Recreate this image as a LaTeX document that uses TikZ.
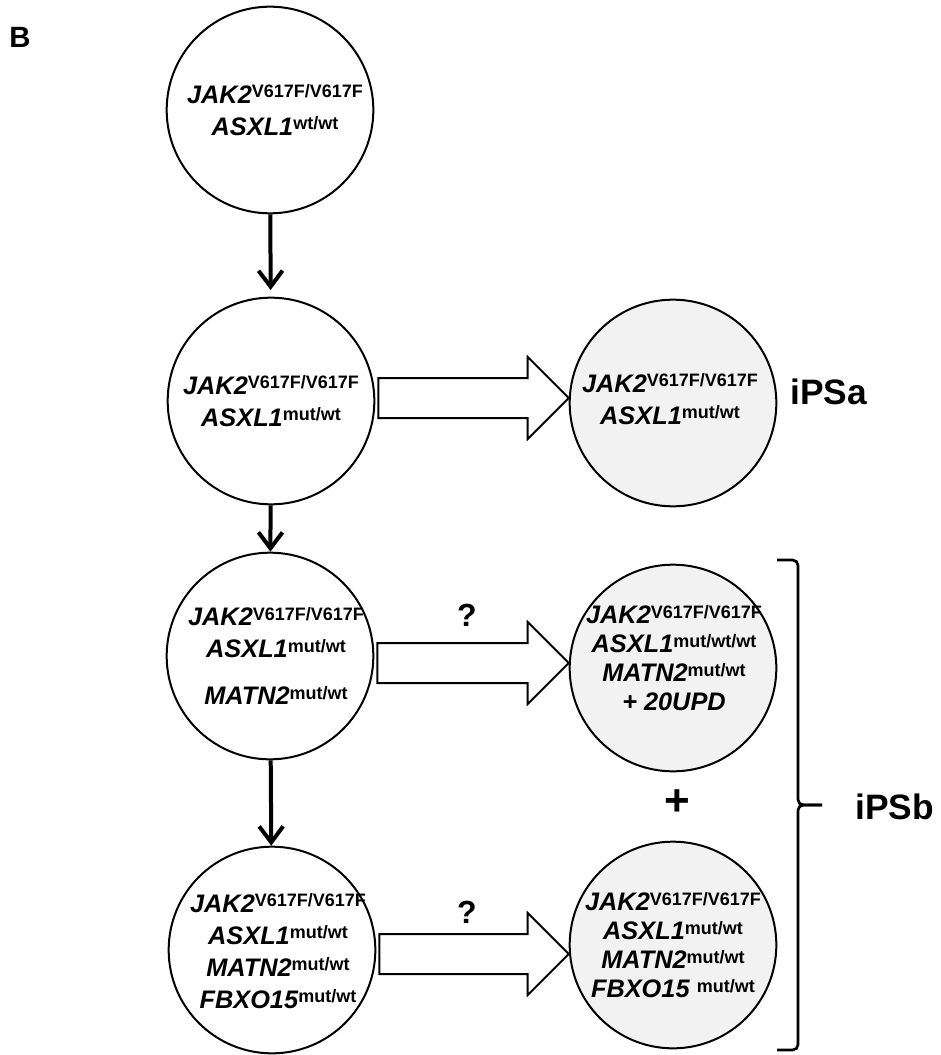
\documentclass[tikz,border=0pt]{standalone}
\usepackage{fontspec}
\setmainfont{Liberation Sans}
\usetikzlibrary{arrows.meta,calc}

\definecolor{cellgray}{RGB}{242,242,242}

% gene name with its allele state as superscript
\newcommand{\gn}[2]{\textbf{\textit{#1}}\raisebox{4pt}{\fontsize{13.5}{15}\selectfont\bfseries #2}}

\tikzset{
  cell/.style={draw, circle, line width=1.5pt, minimum size=155pt, inner sep=0pt},
  ips/.style={cell, fill=cellgray},
  genes/.style={align=center, inner sep=0pt, font=\fontsize{19}{24}\selectfont},
  tight/.style={genes, font=\fontsize{19}{21.75}\selectfont},
  down arrow/.style={line width=3pt, -{Straight Barb[length=12pt,width=18pt]}},
  hollow/.style={draw, fill=white, line width=1.5pt, line join=miter},
  tag/.style={inner sep=0pt, font=\fontsize{26.5}{30}\selectfont\bfseries},
  query/.style={inner sep=0pt, font=\fontsize{24}{26}\selectfont\bfseries},
  bracket/.style={line width=2pt, rounded corners=4pt}
}

\begin{document}
\begin{tikzpicture}[x=0.75pt, y=-0.75pt]
\useasboundingbox (0,0) rectangle (940,1055);

\node[inner sep=0pt, font=\fontsize{22}{24}\selectfont\bfseries] (panel) at (20,37) {B};

% left column
\node[cell] (c1) at (270,110) {};
\node[cell] (c2) at (271,401) {};
\node[cell] (c3) at (270,656) {};
\node[cell] (c4) at (272,950) {};

% right column (iPS clones)
\node[ips] (ra) at (673,403) {};
\node[ips] (rb) at (673,668) {};
\node[ips] (rc) at (673,945) {};

% genotypes
\node[genes] (t1) at ($(c1)+(5,0)$) {\gn{JAK2}{V617F/V617F}\\ \gn{ASXL1}{wt/wt}};
\node[genes] (t2) at (c2) {\gn{JAK2}{V617F/V617F}\\ \gn{ASXL1}{mut/wt}};
\node[genes] (t3) at ($(c3)+(6,0)$) {\gn{JAK2}{V617F/V617F}\\ \gn{ASXL1}{mut/wt}\\[11pt] \gn{MATN2}{mut/wt}};
\node[genes] (t4) at ($(c4)+(6,1)$) {\gn{JAK2}{V617F/V617F}\\ \gn{ASXL1}{mut/wt}\\ \gn{MATN2}{mut/wt}\\ \gn{FBXO15}{mut/wt}};
\node[genes] (ta) at ($(ra)+(-3,-4)$) {\gn{JAK2}{V617F/V617F}\\ \gn{ASXL1}{mut/wt}};
\node[tight] (tb) at ($(rb)+(1,-10)$) {\gn{JAK2}{V617F/V617F}\\ \gn{ASXL1}{mut/wt/wt}\\ \gn{MATN2}{mut/wt}\\ \textbf{\textit{+ 20UPD}}};
\node[tight] (tc) at (rc) {\gn{JAK2}{V617F/V617F}\\ \gn{ASXL1}{mut/wt}\\ \gn{MATN2}{mut/wt}\\ \gn{FBXO15\ }{mut/wt}};

% clonal steps
\foreach \a/\b/\s in {c1/c2/5pt, c2/c3/0pt, c3/c4/0pt}
  \draw[down arrow, shorten >=\s] (\a) -- (\b);

% reprogramming arrows
\foreach \from/\to/\dy in {c2/ra/-5, c3/rb/-5, c4/rc/9}
{
  \path ($(\to.west)+(0,\dy)$) coordinate (tip);
  \draw[hollow] (tip) -- ++(-41,-41) -- ++(0,21) -- ($(\from.east |- tip)+(3,-20)$)
    -- ++(0,40) -- ($(tip)+(-41,20)$) -- ++(0,21) -- cycle;
}

\node[query] (q1) at (467,615) {?};
\node[query] (q2) at (467,912) {?};
\node[inner sep=0pt, font=\fontsize{33}{36}\selectfont\bfseries] (plus) at (677,803) {+};

\node[tag, anchor=west] (ipsa) at (790,392) {iPSa};
\node[tag, anchor=west] (ipsb) at (855,807) {iPSb};

\draw[bracket] (777,560) -- (798,560) -- (798,805) -- (822,805);
\draw[bracket] (822,805) -- (798,805) -- (798,1050) -- (777,1050);
\end{tikzpicture}
\end{document}
